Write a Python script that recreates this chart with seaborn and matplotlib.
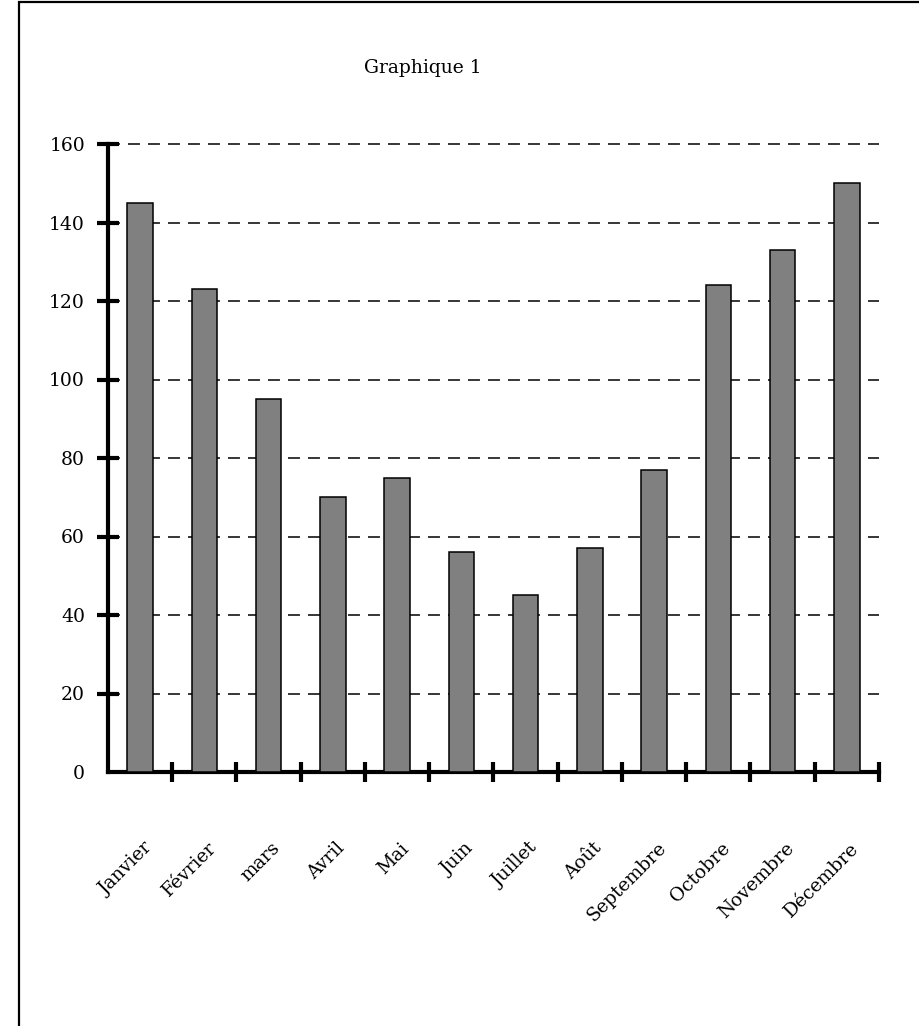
import matplotlib
matplotlib.use("Agg")
import matplotlib.pyplot as plt
import matplotlib.transforms as mtransforms
from matplotlib.patches import Rectangle
import seaborn as sns

# Monthly values
months = ["Janvier", "Février", "mars", "Avril", "Mai", "Juin",
          "Juillet", "Août", "Septembre", "Octobre", "Novembre", "Décembre"]
values = [145, 123, 95, 70, 75, 56, 45, 57, 77, 124, 133, 150]
y_ticks = [0, 20, 40, 60, 80, 100, 120, 140, 160]
title = "Graphique 1"

sns.set_style("white")
plt.rcParams["font.family"] = ["DejaVu Serif", "DejaVu Sans"]
plt.rcParams["lines.scale_dashes"] = False
plt.rcParams["text.color"] = "black"
plt.rcParams["xtick.color"] = "black"
plt.rcParams["ytick.color"] = "black"

W, H = 920, 1026
fig = plt.figure(figsize=(W / 100, H / 100), dpi=100)
ax = fig.add_axes([108 / W, 1 - 772 / H, (879 - 108) / W, (772 - 144) / H])

sns.barplot(x=months, y=values, color="#808080", saturation=1,
            edgecolor="black", linewidth=1.1, width=0.4, ax=ax, zorder=3)

ax.set_xlim(-0.5, len(months) - 0.5)
ax.set_ylim(0, 160)
ax.set_xlabel("")
ax.set_ylabel("")

# Dashed horizontal grid behind the bars
ax.set_axisbelow(True)
ax.set_yticks(y_ticks)
ax.yaxis.grid(True, color="black", linewidth=1.1, linestyle=(0, (8.6, 5.8)))
ax.xaxis.grid(False)
for gl in ax.get_ygridlines():
    gl.set_clip_on(False)

# Spines
for s in ["top", "right"]:
    ax.spines[s].set_visible(False)
for s in ["left", "bottom"]:
    ax.spines[s].set_linewidth(3)
    ax.spines[s].set_color("black")

# Y ticks crossing the axis
ax.tick_params(axis="y", direction="inout", length=16, width=3,
               pad=8.5, labelsize=13.5, colors="black", left=True)
ax.yaxis.get_major_ticks()[0].tick1line.set_visible(False)

# X ticks between categories, labels under each bar
ax.set_xticks([i + 0.5 for i in range(len(months))], minor=True)
ax.tick_params(axis="x", which="minor", direction="inout", length=14, width=3,
               bottom=True, colors="black")
ax.set_xticks(range(len(months)))
ax.set_xticklabels(months, rotation=45, ha="right", va="center",
                   rotation_mode="anchor", fontsize=13.5, color="black")
ax.tick_params(axis="x", which="major", length=0, pad=53, bottom=True)
offset = mtransforms.ScaledTranslation(9 / 100, 0, fig.dpi_scale_trans)
for lbl in ax.get_xticklabels():
    lbl.set_transform(lbl.get_transform() + offset)

fig.text(423 / W, 1 - 68 / H, title, ha="center", va="center",
         fontsize=13.5, color="black")

# Page frame
fig.patches.append(Rectangle((19 / W, -0.2), 1.5, 1.2 - 1.5 / H,
                             transform=fig.transFigure, fill=False,
                             edgecolor="black", linewidth=1.6))

fig.savefig("out.png", dpi=100, facecolor="white")
